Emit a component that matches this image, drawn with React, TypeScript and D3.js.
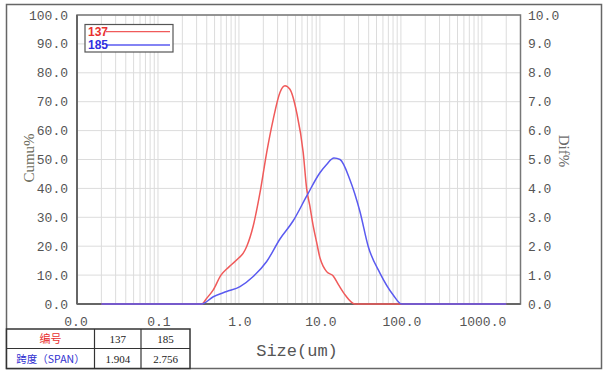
import React from "react";
import * as d3 from "d3";

const seriesNames = ["137", "185"];
const seriesColors = ["#f05a5a", "#5a5af0"];

const sizes137 = [0.02, 0.346, 0.4, 0.482, 0.6, 0.7, 0.8, 1.0, 1.13, 1.25, 1.5, 1.82, 2.2, 2.65, 3.21, 3.7, 4.26, 5.16, 6.22, 6.85, 7.5, 8.26, 9.1, 10, 11, 12.1, 14.6, 17, 20.5, 27, 2000];
const dif137 = [0, 0, 0.2, 0.49, 1.0, 1.2, 1.35, 1.6, 1.76, 2.0, 2.7, 3.85, 5.24, 6.39, 7.32, 7.55, 7.43, 6.63, 5.24, 4.0, 3.4, 2.7, 2.14, 1.6, 1.3, 1.12, 0.97, 0.66, 0.31, 0, 0];

const sizes185 = [0.02, 0.346, 0.482, 0.705, 1.03, 1.5, 2.2, 3.21, 4.68, 6.85, 10, 12.1, 14.9, 17.7, 23.4, 31.2, 39.5, 55.1, 80.4, 102, 2000];
const dif185 = [0, 0, 0.25, 0.43, 0.6, 0.95, 1.47, 2.25, 2.88, 3.73, 4.54, 4.83, 5.05, 5.0, 4.31, 3.2, 1.99, 1.07, 0.31, 0, 0];

const xTickValues = [0.01, 0.1, 1, 10, 100, 1000];
const xTickLabels = ["0.0", "0.1", "1.0", "10.0", "100.0", "1000.0"];
const leftTicks = [0, 10, 20, 30, 40, 50, 60, 70, 80, 90, 100];
const rightTicks = [0, 1, 2, 3, 4, 5, 6, 7, 8, 9, 10];

const tableHeader = ["编号", "137", "185"];
const tableRow = ["跨度（SPAN）", "1.904", "2.756"];

const W = 606, H = 375;
const L = 77, R = 520.5, T = 15, B = 304;

export default function App() {
  const x = d3.scaleLog().domain([0.01, 3000]).range([L, R]);
  const yL = d3.scaleLinear().domain([0, 100]).range([B, T]);
  const yR = d3.scaleLinear().domain([0, 10]).range([B, T]);

  const minor: number[] = [];
  for (let e = -2; e <= 3; e++) {
    for (let k = 1; k <= 9; k++) {
      const v = k * Math.pow(10, e);
      if (v > 0.01 && v < 3000) minor.push(v);
    }
  }

  const line = d3
    .line<[number, number]>()
    .x((d) => x(d[0]))
    .y((d) => yR(d[1]))
    .curve(d3.curveMonotoneX);

  const series = [
    { sizes: sizes137, vals: dif137 },
    { sizes: sizes185, vals: dif185 },
  ];

  const tickFont = "'Liberation Mono', 'DejaVu Sans Mono', monospace";
  const cols = [6.5, 94.5, 141, 190];
  const rows = [329, 348.5, 368.5];

  return (
    <svg width={W} height={H} style={{ position: "absolute", left: 0, top: 0, background: "#fff" }}>
      <rect x={6.5} y={4.5} width={595} height={364} fill="#fff" stroke="#666" strokeWidth={1.5} />
      {/* grid */}
      {minor.map((v, i) => (
        <line key={"gx" + i} x1={x(v)} x2={x(v)} y1={T} y2={B} stroke="#dcdcdc" strokeWidth={1} />
      ))}
      {leftTicks.map((v, i) => (
        <line key={"gy" + i} x1={L} x2={R} y1={yL(v)} y2={yL(v)} stroke="#dcdcdc" strokeWidth={1} />
      ))}
      {/* frame */}
      <rect x={L} y={T} width={R - L} height={B - T} fill="none" stroke="#777" strokeWidth={1.5} />
      <line x1={L} x2={R} y1={B} y2={B} stroke="#666" strokeWidth={2} />
      <line x1={L} x2={L} y1={T} y2={B} stroke="#666" strokeWidth={2} />
      {/* curves */}
      {series.map((s, si) => (
        <path
          key={"s" + si}
          d={line(s.sizes.map((v, i) => [v, s.vals[i]] as [number, number])) || ""}
          fill="none"
          stroke={seriesColors[si]}
          strokeWidth={1.5}
        />
      ))}
      {/* left ticks */}
      {leftTicks.map((v, i) => (
        <text key={"lt" + i} x={68} y={yL(v) + 4.5} textAnchor="end" fontFamily={tickFont} fontSize={13} fill="#555">
          {v.toFixed(1)}
        </text>
      ))}
      {rightTicks.map((v, i) => (
        <text key={"rt" + i} x={528} y={yR(v) + 4.5} textAnchor="start" fontFamily={tickFont} fontSize={13} fill="#555">
          {v.toFixed(1)}
        </text>
      ))}
      {xTickValues.map((v, i) => (
        <text key={"xt" + i} x={x(v) + (i === 0 ? -1 : 1)} y={326} textAnchor="middle" fontFamily={tickFont} fontSize={13} fill="#555">
          {xTickLabels[i]}
        </text>
      ))}
      {/* axis titles */}
      <text x={297} y={356} textAnchor="middle" fontFamily={tickFont} fontSize={17} fill="#555">
        Size(um)
      </text>
      <text transform="translate(34,158) rotate(-90)" textAnchor="middle" fontFamily="'Liberation Serif', serif" fontSize={15} fill="#6b6b5b">
        Cumu%
      </text>
      <text transform="translate(559,151) rotate(90)" textAnchor="middle" fontFamily="'Liberation Serif', serif" fontSize={15} fill="#6b6b6b">
        Dif%
      </text>
      {/* legend */}
      <rect x={85} y={24.5} width={88} height={27.5} fill="#fff" stroke="#555" strokeWidth={1.2} />
      {seriesNames.map((n, i) => (
        <g key={"lg" + i}>
          <line x1={106} x2={170} y1={31.7 + i * 13.3} y2={31.7 + i * 13.3} stroke={seriesColors[i]} strokeWidth={1.3} />
          <text x={88} y={36 + i * 13.3} fontFamily="'Liberation Sans', sans-serif" fontWeight="bold" fontSize={12} fill={i === 0 ? "#e83030" : "#3030e0"}>
            {n}
          </text>
        </g>
      ))}
      {/* table */}
      <rect x={cols[0]} y={rows[0]} width={cols[3] - cols[0]} height={rows[2] - rows[0]} fill="#fff" stroke="#333" strokeWidth={1.5} />
      <line x1={cols[0]} x2={cols[3]} y1={rows[1]} y2={rows[1]} stroke="#333" strokeWidth={1.2} />
      <line x1={cols[1]} x2={cols[1]} y1={rows[0]} y2={rows[2]} stroke="#333" strokeWidth={1.2} />
      <line x1={cols[2]} x2={cols[2]} y1={rows[0]} y2={rows[2]} stroke="#333" strokeWidth={1.2} />
      {tableHeader.map((t, i) => (
        <text
          key={"th" + i}
          x={(cols[i] + cols[i + 1]) / 2}
          y={rows[0] + 14}
          textAnchor="middle"
          fontFamily={i === 0 ? "'Noto Sans CJK SC', sans-serif" : "'Liberation Serif', serif"}
          fontSize={i === 0 ? 11 : 11}
          fill={i === 0 ? "#e83030" : "#222"}
        >
          {t}
        </text>
      ))}
      {tableRow.map((t, i) => (
        <text
          key={"tr" + i}
          x={(cols[i] + cols[i + 1]) / 2}
          y={rows[1] + 14}
          textAnchor="middle"
          fontFamily={i === 0 ? "'Noto Sans CJK SC', sans-serif" : "'Liberation Serif', serif"}
          fontSize={i === 0 ? 10.5 : 11}
          fill={i === 0 ? "#3030d0" : "#222"}
        >
          {t}
        </text>
      ))}
    </svg>
  );
}
